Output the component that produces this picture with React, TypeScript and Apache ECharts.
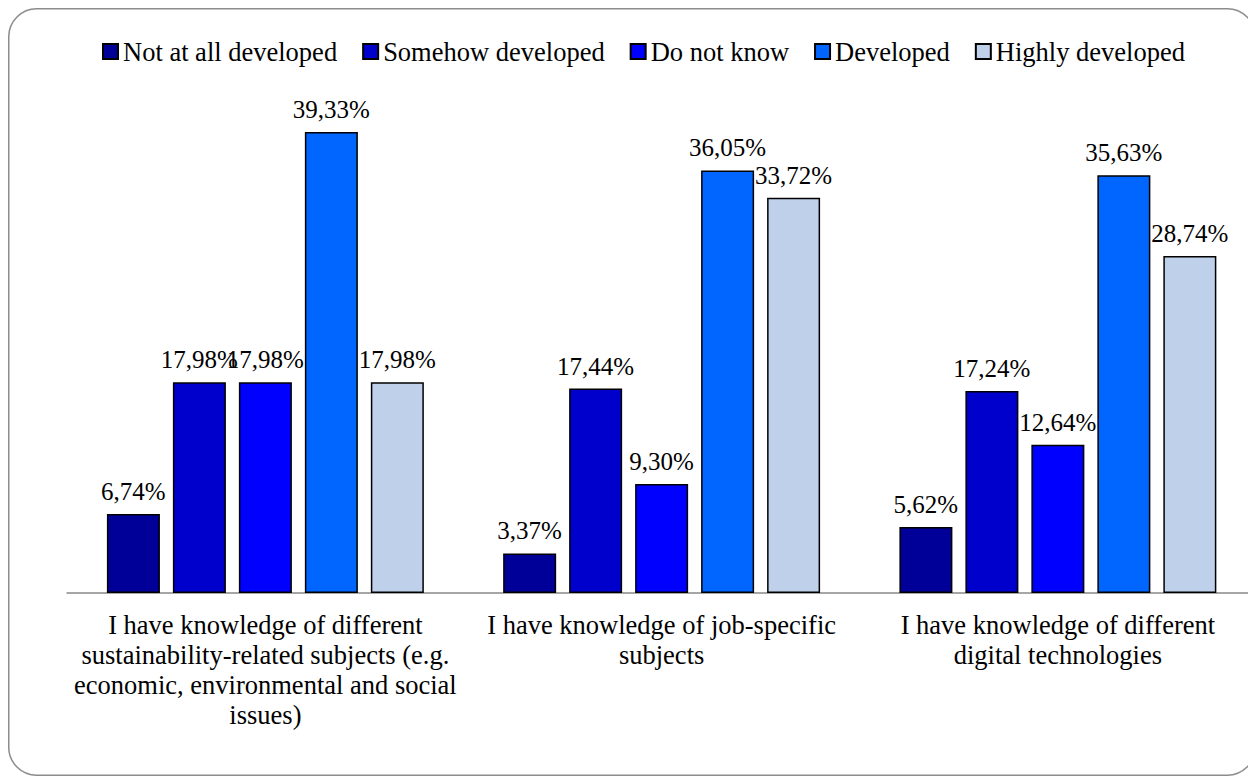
import React, { useEffect, useRef } from "react";
import * as echarts from "echarts";

const categories = [
  "I have knowledge of different\nsustainability-related subjects (e.g.\neconomic, environmental and social\nissues)",
  "I have knowledge of job-specific\nsubjects",
  "I have knowledge of different\ndigital technologies",
];
const seriesNames = [
  "Not at all developed",
  "Somehow developed",
  "Do not know",
  "Developed",
  "Highly developed",
];
const notAtAll = [6.74, 3.37, 5.62];
const somehow = [17.98, 17.44, 17.24];
const doNotKnow = [17.98, 9.3, 12.64];
const developed = [39.33, 36.05, 35.63];
const highly = [17.98, 33.72, 28.74];
const seriesValues = [notAtAll, somehow, doNotKnow, developed, highly];
const colors = ["#000099", "#0000CC", "#0000FF", "#0066FF", "#BED0EA"];

const FONT = "Liberation Serif";

export default function App() {
  const ref = useRef<HTMLDivElement>(null);
  useEffect(() => {
    if (!ref.current) return;
    const chart = echarts.init(ref.current, undefined, { renderer: "svg" });
    chart.setOption({
      animation: false,
      textStyle: { fontFamily: FONT },
      graphic: [
        {
          type: "rect",
          shape: { x: 0.75, y: 0.75, width: 1246.5, height: 766.5, r: 28 },
          style: { fill: "none", stroke: "#8c8c8c", lineWidth: 1.5 },
          silent: true,
          z: 100,
        },
      ],
      legend: {
        left: 89,
        top: 25,
        itemWidth: 15,
        itemHeight: 15,
        itemGap: 25,
        icon: "rect",
        textStyle: { fontSize: 26.5, color: "#000", fontFamily: FONT },
        data: seriesNames,
      },
      grid: { left: 59.25, right: 0, top: 57.5, bottom: 183, containLabel: false },
      xAxis: {
        type: "category",
        data: categories,
        axisLine: { lineStyle: { color: "#a6a6a6", width: 2 } },
        axisTick: { show: false },
        axisLabel: {
          fontSize: 26.5,
          lineHeight: 30,
          color: "#000",
          fontFamily: FONT,
          margin: 17,
          interval: 0,
        },
      },
      yAxis: {
        type: "value",
        min: 0,
        max: 45,
        show: false,
        splitLine: { show: false },
      },
      series: seriesValues.map((vals, i) => ({
        name: seriesNames[i],
        type: "bar",
        data: vals,
        barWidth: 53,
        barGap: "24.5%",
        itemStyle: { color: colors[i], borderColor: "#000", borderWidth: 1.5 },
        label: {
          show: true,
          position: "top",
          distance: 10,
          fontSize: 25,
          color: "#000",
          fontFamily: FONT,
          formatter: (p: any) => p.value.toFixed(2).replace(".", ",") + "%",
        },
      })),
    });
    return () => chart.dispose();
  }, []);
  return <div ref={ref} style={{ width: 1248, height: 768 }} />;
}
